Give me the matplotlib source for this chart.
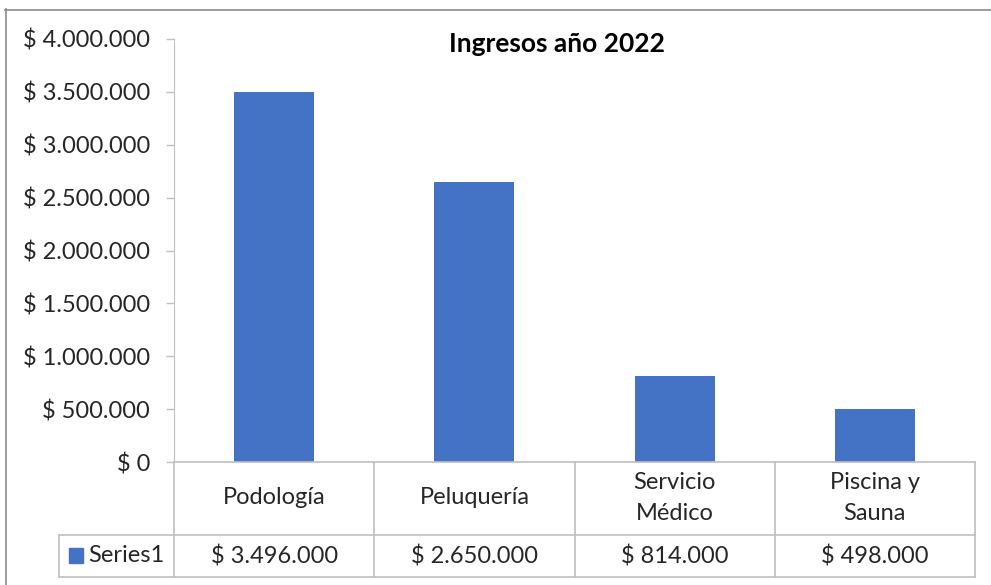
import matplotlib.pyplot as plt
from matplotlib.lines import Line2D
from matplotlib.patches import Rectangle
import matplotlib.transforms as mtransforms

# datos
categorias = ["Podología", "Peluquería", "Servicio\nMédico", "Piscina y\nSauna"]
ingresos = [3496000, 2650000, 814000, 498000]
serie = "Series1"
titulo = "Ingresos año 2022"

plt.rcParams["font.family"] = ["Lato", "DejaVu Sans"]

W, H = 991, 585
fig = plt.figure(figsize=(W / 100, H / 100), dpi=100)

def fx(px):
    return px / W

def fy(py):
    return 1 - py / H

azul = "#4472C4"
gris = "#BFBFBF"
texto = "#262626"
fs = 17

# área del gráfico
ax = fig.add_axes([fx(174), fy(462), fx(975) - fx(174), fy(39) - fy(462)])
x = list(range(len(categorias)))
ax.bar(x, ingresos, width=0.4, color=azul)
ax.set_xlim(-0.5, len(categorias) - 0.5)
ax.set_ylim(0, 4000000)
ax.set_yticks(range(0, 4000001, 500000))
ax.set_yticklabels(["$ 0" if v == 0 else "$ " + f"{v:,}".replace(",", ".") for v in range(0, 4000001, 500000)],
                   fontsize=fs, color=texto)
ax.tick_params(axis="y", length=5.8, color=gris, width=1, pad=11.5)
ax.set_xticks([])
for s in ["top", "right", "bottom"]:
    ax.spines[s].set_visible(False)
ax.spines["left"].set_color(gris)

# título
fig.text(fx(557), fy(44), titulo, ha="center", va="center", fontsize=19, fontweight="bold", color="black")

# tabla de datos
trans = mtransforms.blended_transform_factory(ax.transData, fig.transFigure)
for b in [-0.5, 0.5, 1.5, 2.5, 3.5]:
    fig.add_artist(Line2D([b, b], [fy(462), fy(577)], transform=trans, color=gris, lw=1.2))
fig.add_artist(Line2D([fx(59), fx(975)], [fy(535), fy(535)], color=gris, lw=1.2))
fig.add_artist(Line2D([fx(59), fx(975)], [fy(577), fy(577)], color=gris, lw=1.2))
fig.add_artist(Line2D([fx(59), fx(59)], [fy(535), fy(577)], color=gris, lw=1.2))
fig.add_artist(Line2D([fx(174), fx(975)], [fy(462), fy(462)], color=gris, lw=1.2))

for i, cat in enumerate(categorias):
    fig.text(i, fy(498), cat, transform=trans, ha="center", va="center",
             fontsize=fs, color=texto, linespacing=1.6)
    fig.text(i, fy(556), "$ " + f"{ingresos[i]:,}".replace(",", "."), transform=trans,
             ha="center", va="center", fontsize=fs, color=texto)

fig.add_artist(Rectangle((fx(69), fy(563)), fx(14), fy(548) - fy(563), color=azul))
fig.text(fx(88), fy(556), serie, ha="left", va="center", fontsize=fs, color=texto)

# borde exterior
fig.add_artist(Line2D([fx(5), fx(991)], [fy(9.5), fy(9.5)], color="#8C8C8C", lw=1.2))
fig.add_artist(Line2D([fx(5.5), fx(5.5)], [fy(9), fy(585)], color="#8C8C8C", lw=1.2))

fig.savefig("out.png", dpi=100)
